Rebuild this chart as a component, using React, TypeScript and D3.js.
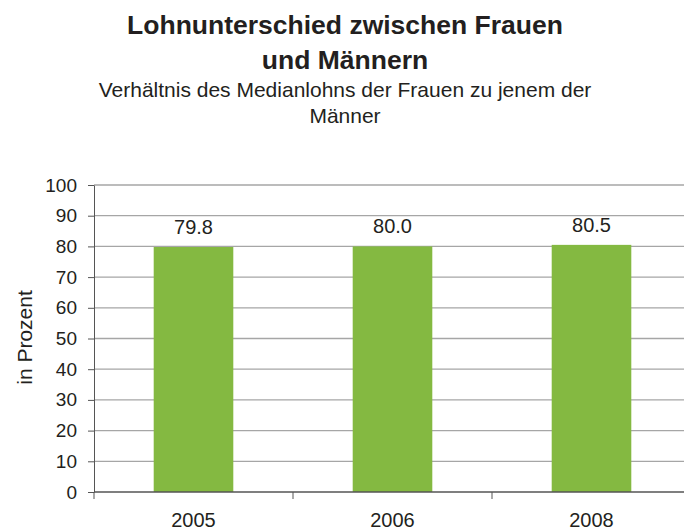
import React, { useRef, useEffect } from "react";
import * as d3 from "d3";

const categories = ["2005", "2006", "2008"];
const values = [79.8, 80.0, 80.5];
const yTicks = [0, 10, 20, 30, 40, 50, 60, 70, 80, 90, 100];

export default function App() {
    const ref = useRef<SVGSVGElement | null>(null);

    useEffect(() => {
        if (!ref.current) return;
        const width = 684;
        const height = 531;
        const svg = d3.select(ref.current);
        svg.selectAll("*").remove();

        const font = "Liberation Sans, Arial, sans-serif";
        const textColor = "#231f20";

        const x = d3.scaleBand<string>()
            .domain(categories)
            .range([94, 691])
            .padding(0);

        const y = d3.scaleLinear()
            .domain([0, 100])
            .range([492, 185]);

        // title + subtitle
        const titles = [
            { t: "Lohnunterschied zwischen Frauen", y: 34, bold: true, size: 26.5 },
            { t: "und Männern", y: 69, bold: true, size: 26.5 },
            { t: "Verhältnis des Medianlohns der Frauen zu jenem der", y: 97, bold: false, size: 21 },
            { t: "Männer", y: 123, bold: false, size: 21 },
        ];
        svg.append("g")
            .selectAll("text")
            .data(titles)
            .join("text")
            .attr("x", 345)
            .attr("y", d => d.y)
            .attr("text-anchor", "middle")
            .attr("font-family", font)
            .attr("font-weight", d => (d.bold ? "bold" : "normal"))
            .attr("font-size", d => d.size)
            .attr("fill", textColor)
            .text(d => d.t);

        // gridlines
        svg.append("g")
            .selectAll("line")
            .data(yTicks.filter(d => d > 0))
            .join("line")
            .attr("x1", 94)
            .attr("x2", width)
            .attr("y1", d => y(d))
            .attr("y2", d => y(d))
            .attr("stroke", "#a6a6a6")
            .attr("stroke-width", 1.3);

        // bars
        const barW = x.bandwidth() * 0.4;
        svg.append("g")
            .attr("fill", "#84b941")
            .selectAll("rect")
            .data(values)
            .join("rect")
            .attr("x", (d, i) => x(categories[i])! + x.bandwidth() / 2 - barW / 2)
            .attr("y", d => y(d))
            .attr("width", barW)
            .attr("height", d => y(0) - y(d));

        // value labels
        svg.append("g")
            .selectAll("text")
            .data(values)
            .join("text")
            .attr("x", (d, i) => x(categories[i])! + x.bandwidth() / 2)
            .attr("y", d => y(d) - 13)
            .attr("text-anchor", "middle")
            .attr("font-family", font)
            .attr("font-size", 20)
            .attr("fill", textColor)
            .text(d => d.toFixed(1));

        // y axis
        const yAxis = svg.append("g")
            .attr("transform", "translate(94,0)")
            .call(d3.axisLeft(y).tickValues(yTicks).tickSize(6).tickPadding(11).tickSizeOuter(0));
        yAxis.selectAll("path, line").attr("stroke", "#555");
        yAxis.selectAll("text")
            .attr("font-family", font)
            .attr("font-size", 19)
            .attr("fill", textColor);

        // x axis
        const xAxis = svg.append("g").attr("transform", `translate(0,${y(0)})`);
        xAxis.append("line")
            .attr("x1", 94)
            .attr("x2", width)
            .attr("stroke", "#555")
            .attr("stroke-width", 1.3);
        const bounds = categories.map(c => x(c)!).concat([x.range()[1]]);
        xAxis.selectAll("line.tick")
            .data(bounds)
            .join("line")
            .attr("class", "tick")
            .attr("x1", d => d)
            .attr("x2", d => d)
            .attr("y1", 0)
            .attr("y2", 7)
            .attr("stroke", "#555");
        xAxis.selectAll("text")
            .data(categories)
            .join("text")
            .attr("x", d => x(d)! + x.bandwidth() / 2)
            .attr("y", 35)
            .attr("text-anchor", "middle")
            .attr("font-family", font)
            .attr("font-size", 20)
            .attr("fill", textColor)
            .text(d => d);

        // y axis title
        svg.append("text")
            .attr("transform", `translate(32,${y(50) - 1}) rotate(-90)`)
            .attr("text-anchor", "middle")
            .attr("font-family", font)
            .attr("font-size", 21)
            .attr("fill", textColor)
            .text("in Prozent");
    }, []);

    return (
        <svg
            ref={ref}
            width={684}
            height={531}
            style={{ position: "absolute", left: 0, top: 0, background: "#fff" }}
        />
    );
}
